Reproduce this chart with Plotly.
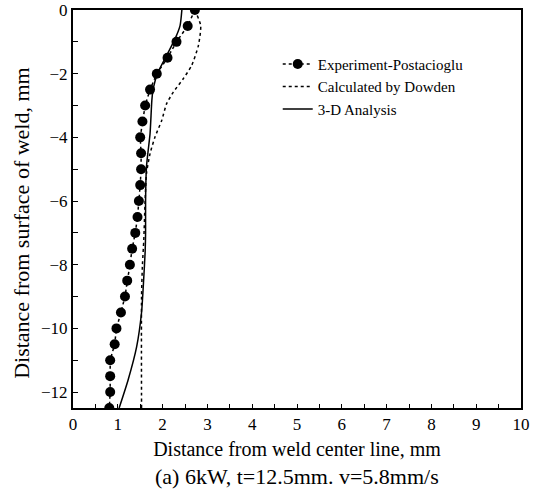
import plotly.graph_objects as go

# Experiment-Postacioglu (x: distance from center line, y: depth)
exp_x = [2.72, 2.56, 2.31, 2.11, 1.87, 1.72, 1.61, 1.55, 1.50, 1.52, 1.52, 1.50, 1.47, 1.44,
         1.39, 1.32, 1.27, 1.21, 1.16, 1.07, 0.97, 0.93, 0.83, 0.83, 0.83, 0.81]
exp_y = [0.0, -0.5, -1.0, -1.5, -2.0, -2.5, -3.0, -3.5, -4.0, -4.5, -5.0, -5.5, -6.0, -6.5,
         -7.0, -7.5, -8.0, -8.5, -9.0, -9.5, -10.0, -10.5, -11.0, -11.5, -12.0, -12.5]

# Calculated by Dowden
dow_x = [2.72, 2.85, 2.80, 2.65, 2.46, 2.24, 2.09, 1.98, 1.83, 1.72, 1.64, 1.61, 1.58, 1.55, 1.53, 1.53]
dow_y = [0.0, -0.49, -1.11, -1.74, -2.16, -2.58, -2.94, -3.47, -3.99, -4.51, -5.14, -5.98, -7.23, -8.0, -9.0, -12.5]

# 3-D Analysis
ana_x = [2.43, 2.39, 2.28, 2.09, 1.90, 1.79, 1.76, 1.72, 1.67, 1.64, 1.62, 1.62, 1.61, 1.58, 1.53, 1.42, 1.23, 1.03]
ana_y = [0.0, -0.49, -0.9, -1.43, -1.95, -2.47, -2.84, -3.88, -4.51, -4.93, -5.98, -7.0, -7.6, -8.4, -9.5, -10.58, -11.62, -12.5]

x_title = "Distance from weld center line, mm"
y_title = "Distance from surface of weld, mm"
caption = "(a) 6kW, t=12.5mm. v=5.8mm/s"

FONT = "Liberation Serif"

fig = go.Figure()
fig.add_trace(go.Scatter(x=exp_x, y=exp_y, mode="lines+markers", name="Experiment-Postacioglu",
                         line=dict(color="black", width=1.5, dash="dot"),
                         marker=dict(color="black", size=10)))
fig.add_trace(go.Scatter(x=dow_x, y=dow_y, mode="lines", name="Calculated by Dowden",
                         line=dict(color="black", width=1.5, dash="dot", shape="spline", smoothing=0.6)))
fig.add_trace(go.Scatter(x=ana_x, y=ana_y, mode="lines", name="3-D Analysis",
                         line=dict(color="black", width=1.5, shape="spline", smoothing=0.6)))

fig.update_layout(
    template="none",
    width=537, height=493,
    margin=dict(l=73, r=16, t=10, b=85),
    paper_bgcolor="white", plot_bgcolor="white",
    font=dict(family=FONT, color="black", size=16),
    showlegend=True,
    legend=dict(x=0.457, y=0.905, xanchor="left", yanchor="top",
                bgcolor="rgba(0,0,0,0)", font=dict(size=15, family=FONT, color="black")),
    annotations=[
        dict(text=caption, x=0.5, y=-0.172, xref="paper", yref="paper",
             xanchor="center", yanchor="middle", showarrow=False,
             font=dict(size=22, family=FONT, color="black")),
        dict(text=y_title, x=-0.114, y=0.465, xref="paper", yref="paper", textangle=-90,
             xanchor="center", yanchor="middle", showarrow=False,
             font=dict(size=22, family=FONT, color="black")),
    ],
)
fig.update_xaxes(range=[0, 10], dtick=1, tick0=0, ticks="inside", ticklen=4, tickwidth=1,
                 tickcolor="black", automargin=False,
                 showgrid=False, zeroline=False, showline=True, linecolor="black", linewidth=2,
                 mirror=True, tickfont=dict(size=17, family=FONT, color="black"),
                 minor=dict(dtick=0.5, ticks="inside", ticklen=4, tickwidth=1, tickcolor="black"),
                 title=dict(text=x_title, font=dict(size=20, family=FONT, color="black"), standoff=9))
fig.update_yaxes(range=[-12.5, 0], dtick=2, tick0=0, ticks="inside", ticklen=5, tickwidth=1,
                 tickcolor="black", automargin=False,
                 showgrid=False, zeroline=False, showline=True, linecolor="black", linewidth=2,
                 mirror=True, tickfont=dict(size=17, family=FONT, color="black"),
                 minor=dict(dtick=1, ticks="inside", ticklen=5, tickwidth=1, tickcolor="black"))

fig.write_html("out.html")
